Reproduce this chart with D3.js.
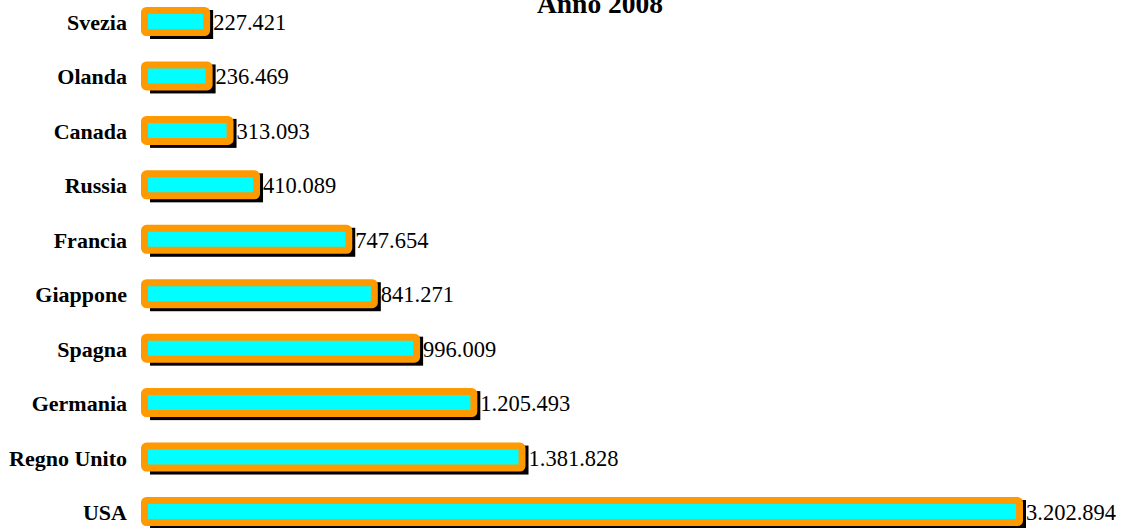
<!DOCTYPE html>
<html>
<head>
<meta charset="utf-8">
<script src="https://cdn.jsdelivr.net/npm/d3@7"></script>
<style>
  body { margin: 0; background: #fff; }
  svg { display: block; }
</style>
</head>
<body>
<div id="chart"></div>
<script>
// dati (anno 2008)
var countries = ["Svezia", "Olanda", "Canada", "Russia", "Francia", "Giappone", "Spagna", "Germania", "Regno Unito", "USA"]
var values = [227421, 236469, 313093, 410089, 747654, 841271, 996009, 1205493, 1381828, 3202894]
var title = "Anno 2008"

var width = 1122
var height = 528
var stroke = 7

var svg = d3.select("#chart")
	.append("svg")
	.attr("width", width)
	.attr("height", height)

var data = countries.map(function (c, i) { return { name: c, value: values[i] } })

var x = d3.scaleLinear()
	.domain([0, d3.max(values)])
	.range([0, 875])

var y = d3.scalePoint()
	.domain(countries)
	.range([21.5, 511.5])

var barH = 22
var x0 = 144.5

var it = d3.formatLocale({ decimal: ",", thousands: ".", grouping: [3], currency: ["€", ""] })
var fmt = it.format(",d")

// title
svg.append("text")
	.attr("x", 600)
	.attr("y", 13)
	.attr("text-anchor", "middle")
	.style("font-family", "'Liberation Serif', 'Times New Roman', serif")
	.style("font-weight", "bold")
	.style("font-size", "27.5px")
	.text(title)

var rows = svg.selectAll("g.row")
	.data(data)
	.enter()
	.append("g")
	.attr("class", "row")

// shadow (square corners, shifted down/right)
rows.append("rect")
	.attr("x", x0 + 5.5)
	.attr("y", function (d) { return y(d.name) - barH / 2 - stroke / 2 + 3 })
	.attr("width", function (d) { return x(d.value) + 1 })
	.attr("height", barH + stroke)
	.attr("fill", "#000")

// bar
rows.append("rect")
	.attr("x", x0)
	.attr("y", function (d) { return y(d.name) - barH / 2 })
	.attr("width", function (d) { return x(d.value) })
	.attr("height", barH)
	.attr("rx", 2)
	.attr("fill", "#00ffff")
	.attr("stroke", "#ff9900")
	.attr("stroke-width", stroke)

// category labels
rows.append("text")
	.attr("x", 127)
	.attr("y", function (d) { return y(d.name) + 8.5 })
	.attr("text-anchor", "end")
	.style("font-family", "'Liberation Serif', 'Times New Roman', serif")
	.style("font-weight", "bold")
	.style("font-size", "22px")
	.text(function (d) { return d.name })

// values
rows.append("text")
	.attr("x", function (d) { return x0 + x(d.value) + 6.5 })
	.attr("y", function (d) { return y(d.name) + 8.5 })
	.style("font-family", "'Liberation Serif', 'Times New Roman', serif")
	.style("font-size", "22.5px")
	.text(function (d) { return fmt(d.value) })
</script>
</body>
</html>
